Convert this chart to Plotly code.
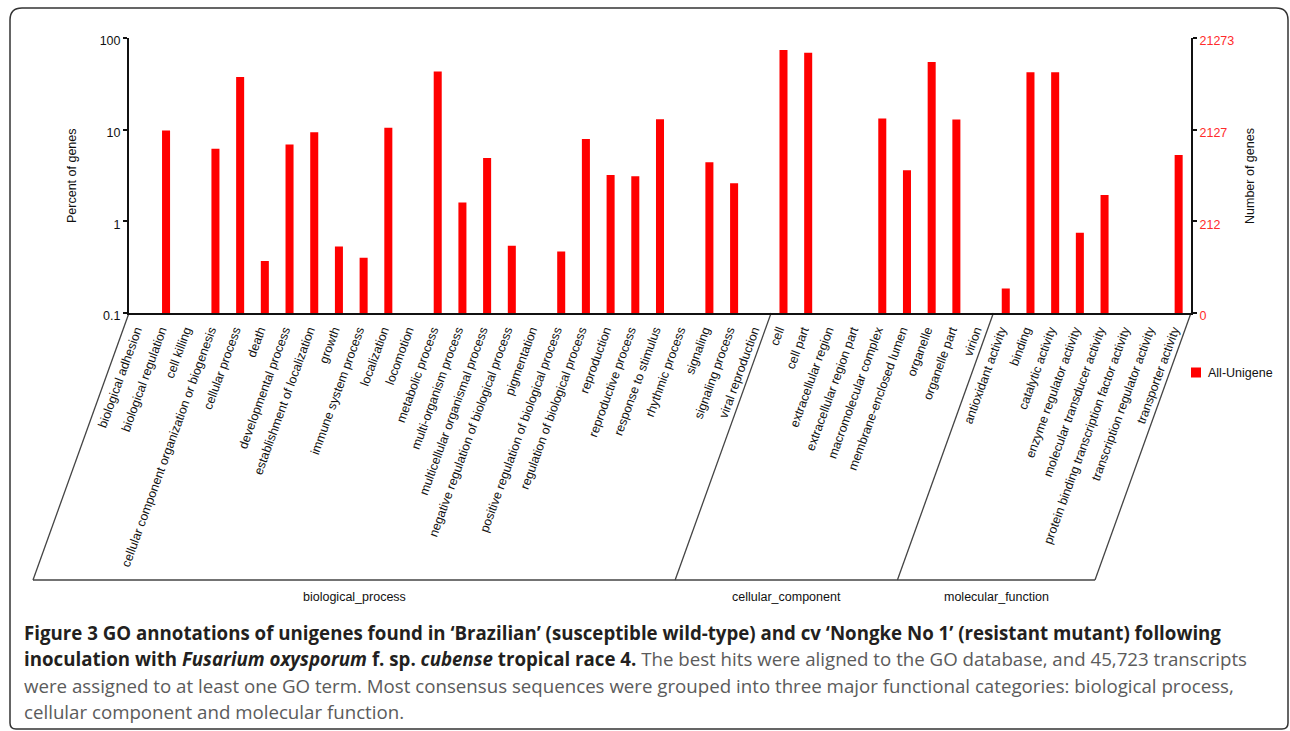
import plotly.graph_objects as go

# GO categories, grouped by ontology
bp_terms = [
    "biological adhesion", "biological regulation", "cell killing",
    "cellular component organization or biogenesis", "cellular process", "death",
    "developmental process", "establishment of localization", "growth",
    "immune system process", "localization", "locomotion", "metabolic process",
    "multi-organism process", "multicellular organismal process",
    "negative regulation of biological process", "pigmentation",
    "positive regulation of biological process", "regulation of biological process",
    "reproduction", "reproductive process", "response to stimulus",
    "rhythmic process", "signaling", "signaling process", "viral reproduction",
]
bp_pct = [None, 9.8, None, 6.2, 37.6, 0.37, 6.9, 9.4, 0.53, 0.40, 10.5, None, 43.0,
          1.6, 4.9, 0.54, None, 0.47, 7.9, 3.2, 3.1, 13.0, None, 4.4, 2.6, None]

cc_terms = [
    "cell", "cell part", "extracellular region", "extracellular region part",
    "macromolecular complex", "membrane-enclosed lumen", "organelle",
    "organelle part", "virion",
]
cc_pct = [73.8, 69.2, None, None, 13.2, 3.6, 54.7, 12.9, None]

mf_terms = [
    "antioxidant activity", "binding", "catalytic activity",
    "enzyme regulator activity", "molecular transducer activity",
    "protein binding transcription factor activity",
    "transcription regulator activity", "transporter activity",
]
mf_pct = [0.185, 42.3, 42.3, 0.75, 1.94, None, None, 5.3]

group_names = ["biological_process", "cellular_component", "molecular_function"]
series_name = "All-Unigene"

pct_ticks = [0.1, 1, 10, 100]
pct_tick_text = ["0.1", "1", "10", "100"]
gene_tick_text = ["0", "212", "2127", "21273"]

categories = bp_terms + cc_terms + mf_terms
percents = bp_pct + cc_pct + mf_pct
group_sizes = [len(bp_terms), len(cc_terms), len(mf_terms)]

# ---- page geometry (pixels) ----
W, H = 1290, 731
PL, PR, PT, PB = 129, 1191, 38, 313
RED = "#ff0000"
AX_FONT = "Liberation Sans, Arial, sans-serif"


def fx(p):
    return (p - PL) / (PR - PL)


def fy(p):
    return (PB - p) / (PB - PT)


step = (PR - PL) / len(categories)

fig = go.Figure()
fig.add_trace(go.Bar(
    x=categories, y=percents, name=series_name,
    marker=dict(color=RED, line=dict(width=0)),
    showlegend=False,
))

fig.update_layout(
    width=W, height=H,
    margin=dict(l=PL, r=W - PR, t=PT, b=H - PB),
    paper_bgcolor="white", plot_bgcolor="white",
    bargap=0.675,
    font=dict(family=AX_FONT, size=12.5, color="#111"),
    xaxis=dict(
        type="category", tickangle=-70, showline=True, linewidth=2,
        linecolor="#111", ticks="", showgrid=False, zeroline=False,
        ticklabelshift=-5, ticklabelstandoff=3,
        tickfont=dict(family=AX_FONT, size=12.5, color="#111"),
        range=[-0.5, len(categories) - 0.5],
    ),
    yaxis=dict(
        type="log", range=[-1, 2], tickvals=pct_ticks, ticktext=pct_tick_text,
        showline=True, linewidth=2, linecolor="#111", ticks="outside",
        ticklen=4, tickwidth=1.5, tickcolor="#111", showgrid=False,
        zeroline=False, ticklabelshift=3,
        tickfont=dict(family=AX_FONT, size=12.5, color="#111"),
    ),
    yaxis2=dict(
        type="log", range=[-1, 2], overlaying="y", side="right",
        tickvals=pct_ticks, ticktext=gene_tick_text,
        showline=True, linewidth=2, linecolor="#111", ticks="outside",
        ticklen=4, tickwidth=1.5, tickcolor="#111", showgrid=False,
        zeroline=False, ticklabelshift=3,
        tickfont=dict(family=AX_FONT, size=12.5, color="#ff2b2b"),
    ),
)
# invisible twin trace so the right-hand axis is laid out
fig.add_trace(go.Scatter(x=[categories[0]], y=[1], yaxis="y2", mode="markers",
                         marker=dict(opacity=0), showlegend=False,
                         hoverinfo="skip"))

shapes = []
line_style = dict(color="#444", width=1.3)
slant = 96
base_y = 580

# slanted group separators and the base of the label panel
bounds = [-0.5]
for n in group_sizes:
    bounds.append(bounds[-1] + n)
for b in bounds:
    xt = PL + (b + 0.5) * step
    shapes.append(dict(type="line", xref="paper", yref="paper",
                       x0=fx(xt), y0=fy(PB), x1=fx(xt - slant), y1=fy(base_y),
                       line=line_style, layer="below"))
shapes.append(dict(type="line", xref="paper", yref="paper",
                   x0=fx(PL - slant), y0=fy(base_y),
                   x1=fx(PR - slant), y1=fy(base_y), line=line_style))

# rounded outer frame
fl, fr, ft, fb, r = 10, 1288, 8, 729, 12
path = (f"M {fx(fl)},{fy(ft + r)} Q {fx(fl)},{fy(ft)} {fx(fl + r)},{fy(ft)} "
        f"L {fx(fr - r)},{fy(ft)} Q {fx(fr)},{fy(ft)} {fx(fr)},{fy(ft + r)} "
        f"L {fx(fr)},{fy(fb - 6)} Q {fx(fr)},{fy(fb)} {fx(fr - 6)},{fy(fb)} "
        f"L {fx(fl + 6)},{fy(fb)} Q {fx(fl)},{fy(fb)} {fx(fl)},{fy(fb - 6)} Z")
shapes.append(dict(type="path", xref="paper", yref="paper", path=path,
                   line=dict(color="#333", width=1.5)))

# legend swatch
shapes.append(dict(type="rect", xref="paper", yref="paper",
                   x0=fx(1191), x1=fx(1201), y0=fy(367.5), y1=fy(377.5),
                   fillcolor=RED, line=dict(width=0)))

annotations = []
# ontology group labels centred under their panels
for k, name in enumerate(group_names):
    left = PL + (bounds[k] + 0.5) * step - slant
    right = PL + (bounds[k + 1] + 0.5) * step - slant
    annotations.append(dict(text=name, xref="paper", yref="paper",
                            x=fx((left + right) / 2), y=fy(597),
                            showarrow=False, xanchor="center", yanchor="middle",
                            font=dict(family=AX_FONT, size=12.5, color="#111")))

annotations += [
    dict(text="Percent of genes", xref="paper", yref="paper", x=fx(72), y=fy(176),
         textangle=-90, showarrow=False, xanchor="center", yanchor="middle",
         font=dict(family=AX_FONT, size=12.5, color="#111")),
    dict(text="Number of genes", xref="paper", yref="paper", x=fx(1250), y=fy(176),
         textangle=-90, showarrow=False, xanchor="center", yanchor="middle",
         font=dict(family=AX_FONT, size=12.5, color="#111")),
    dict(text=series_name, xref="paper", yref="paper", x=fx(1206), y=fy(373),
         showarrow=False, xanchor="left", yanchor="middle",
         font=dict(family=AX_FONT, size=12.5, color="#111")),
]

# figure caption
CAP_FONT = "Open Sans, sans-serif"
dark, grey = "#231f20", "#5b5b5b"
caption_lines = [
    ("<b>Figure 3 GO annotations of unigenes found in ‘Brazilian’ (susceptible "
     "wild-type) and cv ‘Nongke No 1’ (resistant mutant) following</b>", dark),
    ("<b>inoculation with <i>Fusarium oxysporum</i> f. sp. <i>cubense</i> tropical "
     "race 4.</b> <span style='color:%s'>The best hits were aligned to the GO "
     "database, and 45,723 transcripts</span>" % grey, dark),
    ("were assigned to at least one GO term. Most consensus sequences were grouped "
     "into three major functional categories: biological process,", grey),
    ("cellular component and molecular function.", grey),
]
for j, (txt, col) in enumerate(caption_lines):
    annotations.append(dict(text=txt, xref="paper", yref="paper",
                            x=fx(22), y=fy(632 + j * 26.5), showarrow=False,
                            xanchor="left", yanchor="middle",
                            font=dict(family=CAP_FONT, size=18.7, color=col)))

fig.update_layout(shapes=shapes, annotations=annotations)
fig.write_html("out.html")
